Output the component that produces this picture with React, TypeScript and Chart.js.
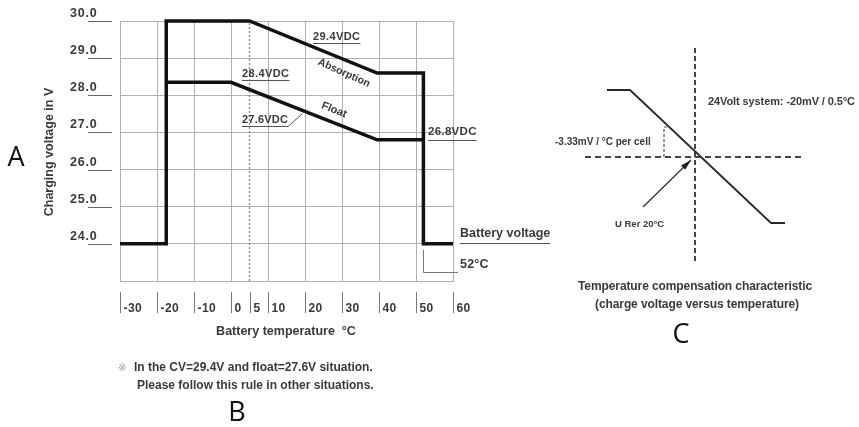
import { useEffect, useRef } from 'react';
import { Chart, registerables } from 'chart.js';

Chart.register(...registerables);

// ---------- Chart A data ----------
const temperatureTicks = [-30, -20, -10, 0, 5, 10, 20, 30, 40, 50, 60];
const voltageTicks = [24, 25, 26, 27, 28, 29, 30];
const absorptionTemps = [-30, -17.5, -17.5, 5, 39.5, 52, 52, 60];
const absorptionVolts = [24.0, 24.0, 30.0, 30.0, 28.6, 28.6, 24.0, 24.0];
const floatTemps = [-17.5, 0, 39.5, 52];
const floatVolts = [28.35, 28.35, 26.8, 26.8];
const refTemps = [5, 5];
const refVolts = [23, 30];

// ---------- Chart C data (relative units) ----------
const compTemps = [-8.8, -6.5, 7.6, 9.0];
const compVolts = [6.7, 6.7, -6.6, -6.6];
const vAxisX = [0, 0];
const vAxisY = [10.9, -10.5];
const hAxisX = [-11, 10.8];
const hAxisY = [0, 0];
const slopeX = [-3.1, -3.1, -2.6];
const slopeY = [0, 3.0, 3.0];
const arrowX = [-5.2, -0.4];
const arrowY = [-5.0, -0.3];

const zip = (xs: number[], ys: number[]) => xs.map((x, i) => ({ x, y: ys[i] }));

const FONT = '"Liberation Sans", Arial, Helvetica, sans-serif';
const TEXT = '#3a3a3a';

type TOpts = {
  weight?: string;
  color?: string;
  align?: CanvasTextAlign;
  baseline?: CanvasTextBaseline;
  spacing?: number;
  angle?: number;
  family?: string;
};

function txt(ctx: CanvasRenderingContext2D, s: string, x: number, y: number, size: number, o: TOpts = {}) {
  ctx.save();
  ctx.font = `${o.weight ?? 'bold'} ${size}px ${o.family ?? FONT}`;
  ctx.fillStyle = o.color ?? TEXT;
  ctx.textAlign = o.align ?? 'left';
  ctx.textBaseline = o.baseline ?? 'middle';
  (ctx as any).letterSpacing = (o.spacing ?? 0) + 'px';
  if (o.angle) {
    ctx.translate(x, y);
    ctx.rotate(o.angle);
    ctx.fillText(s, 0, 0);
  } else {
    ctx.fillText(s, x, y);
  }
  const w = ctx.measureText(s).width;
  ctx.restore();
  return w;
}

function line(ctx: CanvasRenderingContext2D, pts: number[][], color = '#555', width = 1) {
  ctx.save();
  ctx.strokeStyle = color;
  ctx.lineWidth = width;
  ctx.beginPath();
  pts.forEach((p, i) => (i ? ctx.lineTo(p[0], p[1]) : ctx.moveTo(p[0], p[1])));
  ctx.stroke();
  ctx.restore();
}

const annotationsA = {
  id: 'annotationsA',
  afterDatasetsDraw(chart: any) {
    const ctx: CanvasRenderingContext2D = chart.ctx;
    const xs = chart.scales.x;
    const ys = chart.scales.y;
    // Y tick labels with underline
    voltageTicks.forEach((v) => {
      const py = Math.round(ys.getPixelForValue(v)) + 0.5;
      txt(ctx, v.toFixed(1), 70, py - 8, 12.5, { spacing: 0.8 });
      line(ctx, [[88, py], [112, py]], '#666', 1);
    });
    // X tick marks and labels
    temperatureTicks.forEach((t) => {
      const px = Math.round(xs.getPixelForValue(t)) + 0.5;
      line(ctx, [[px, 292], [px, 313]], '#777', 1);
      txt(ctx, String(t), px + 3, 309, 12, { spacing: 0.4 });
    });
    // Axis titles
    txt(ctx, 'Battery temperature  °C', 286, 332, 12.5, { align: 'center' });
    txt(ctx, 'Charging voltage in V', 50, 152, 12.5, { align: 'center', angle: -Math.PI / 2 });

    // Value annotations
    let w = txt(ctx, '29.4VDC', 313, 37, 11, { spacing: 0.4 });
    line(ctx, [[313, 43.5], [313 + w, 43.5]], '#555', 1);
    w = txt(ctx, '28.4VDC', 242, 74, 11, { spacing: 0.4 });
    line(ctx, [[242, 80.5], [242 + w, 80.5]], '#555', 1);
    w = txt(ctx, '27.6VDC', 242, 120, 11, { spacing: 0.2 });
    line(ctx, [[242, 126.5], [288, 126.5], [302, 114]], '#555', 1);
    w = txt(ctx, '26.8VDC', 428, 132, 11.5, { spacing: 0.3 });
    line(ctx, [[428, 140.5], [428 + w, 140.5]], '#555', 1);
    w = txt(ctx, 'Battery voltage', 460, 234, 12.5);
    line(ctx, [[460, 243.5], [460 + w, 243.5]], '#555', 1);
    txt(ctx, '52°C', 460, 265, 12.5, { spacing: 0.2 });
    line(ctx, [[423.5, 250], [423.5, 272.5], [458, 272.5]], '#777', 1);

    txt(ctx, 'Absorption', 344, 73, 10.5, { align: 'center', angle: (24 * Math.PI) / 180 });
    txt(ctx, 'Float', 334, 110, 11, { align: 'center', angle: (22 * Math.PI) / 180 });

    // Footnote
    txt(ctx, '※', 118, 368, 10, { weight: 'normal', color: '#999', family: '"DejaVu Sans", "Noto Sans CJK JP", sans-serif' });
    txt(ctx, 'In the CV=29.4V and float=27.6V situation.', 134, 368, 12);
    txt(ctx, 'Please follow this rule in other situations.', 137, 386, 12);

    // Panel letters
    txt(ctx, 'A', 16, 158, 27, { weight: 'normal', color: '#111', align: 'center', family: '"Open Sans", "Noto Sans", sans-serif' });
    txt(ctx, 'B', 237, 413, 27, { weight: 'normal', color: '#111', align: 'center', family: '"Open Sans", "Noto Sans", sans-serif' });
  },
};

const annotationsC = {
  id: 'annotationsC',
  afterDatasetsDraw(chart: any) {
    const ctx: CanvasRenderingContext2D = chart.ctx;
    const xs = chart.scales.x;
    const ys = chart.scales.y;
    // arrow head
    const x0 = xs.getPixelForValue(arrowX[0]);
    const y0 = ys.getPixelForValue(arrowY[0]);
    const x1 = xs.getPixelForValue(arrowX[1]);
    const y1 = ys.getPixelForValue(arrowY[1]);
    const ang = Math.atan2(y1 - y0, x1 - x0);
    const L = 11;
    const H = 3;
    ctx.save();
    ctx.fillStyle = '#222';
    ctx.beginPath();
    ctx.moveTo(x1, y1);
    ctx.lineTo(x1 - L * Math.cos(ang) + H * Math.sin(ang), y1 - L * Math.sin(ang) - H * Math.cos(ang));
    ctx.lineTo(x1 - L * Math.cos(ang) - H * Math.sin(ang), y1 - L * Math.sin(ang) + H * Math.cos(ang));
    ctx.closePath();
    ctx.fill();
    ctx.restore();

    txt(ctx, '24Volt system: -20mV / 0.5°C', 708, 102, 11, { spacing: -0.1 });
    txt(ctx, '-3.33mV / °C per cell', 555, 142, 10);
    txt(ctx, 'U Rer 20°C', 615, 224, 9.5);
    txt(ctx, 'Temperature compensation characteristic', 695, 287, 12, { align: 'center', spacing: -0.1 });
    txt(ctx, '(charge voltage versus temperature)', 697, 305, 12, { align: 'center', spacing: -0.1 });
    txt(ctx, 'C', 681, 335, 27, { weight: 'normal', color: '#111', align: 'center', family: '"Open Sans", "Noto Sans", sans-serif' });
  },
};

const lineDs = (label: string, data: any[], color: string, width: number, dash: number[] = []) => ({
  label,
  data,
  borderColor: color,
  borderWidth: width,
  borderDash: dash,
  pointRadius: 0,
  fill: false,
  tension: 0,
  clip: false as const,
  borderJoinStyle: 'miter' as const,
  borderCapStyle: 'butt' as const,
});

export default function App() {
  const aRef = useRef<HTMLCanvasElement>(null);
  const cRef = useRef<HTMLCanvasElement>(null);

  useEffect(() => {
    const gridColor = '#b0b0b0';
    const chartA = new Chart(aRef.current!, {
      type: 'line',
      data: {
        datasets: [
          lineDs('Absorption', zip(absorptionTemps, absorptionVolts), '#111', 3.5),
          lineDs('Float', zip(floatTemps, floatVolts), '#111', 3.5),
          lineDs('Reference 5°C', zip(refTemps, refVolts), '#888', 1.3, [2, 2]),
        ],
      },
      options: {
        animation: false,
        responsive: false,
        events: [],
        layout: { padding: { left: 120, top: 21, right: 406, bottom: 146 } },
        plugins: { legend: { display: false }, tooltip: { enabled: false } },
        scales: {
          x: {
            type: 'linear',
            min: -30,
            max: 60,
            ticks: { display: false, stepSize: 10 },
            grid: { color: gridColor, lineWidth: 1, drawTicks: false },
            border: { display: true, color: gridColor },
          },
          y: {
            type: 'linear',
            min: 23,
            max: 30,
            ticks: { display: false, stepSize: 1 },
            grid: { color: gridColor, lineWidth: 1, drawTicks: false },
            border: { display: true, color: gridColor },
          },
        },
      },
      plugins: [annotationsA],
    });

    const chartC = new Chart(cRef.current!, {
      type: 'line',
      data: {
        datasets: [
          lineDs('Characteristic', zip(compTemps, compVolts), '#2a2a2a', 1.8),
          lineDs('Arrow', zip(arrowX, arrowY), '#333', 1.3),
          lineDs('Voltage axis', zip(vAxisX, vAxisY), '#444', 2, [5, 3]),
          lineDs('Temperature axis', zip(hAxisX, hAxisY), '#444', 1.8, [6, 4]),
          lineDs('Slope', zip(slopeX, slopeY), '#555', 1.2, [3, 2]),
        ],
      },
      options: {
        animation: false,
        responsive: false,
        events: [],
        layout: { padding: { left: 555, top: 48, right: 24, bottom: 165 } },
        plugins: { legend: { display: false }, tooltip: { enabled: false } },
        scales: {
          x: { type: 'linear', min: -14, max: 14, display: false },
          y: { type: 'linear', min: -10.5, max: 10.9, display: false },
        },
      },
      plugins: [annotationsC],
    });

    return () => {
      chartA.destroy();
      chartC.destroy();
    };
  }, []);

  return (
    <div style={{ position: 'absolute', left: 0, top: 0, width: 859, height: 427, background: '#fff' }}>
      <canvas ref={aRef} width={859} height={427} style={{ position: 'absolute', left: 0, top: 0 }} />
      <canvas ref={cRef} width={859} height={427} style={{ position: 'absolute', left: 0, top: 0 }} />
    </div>
  );
}
